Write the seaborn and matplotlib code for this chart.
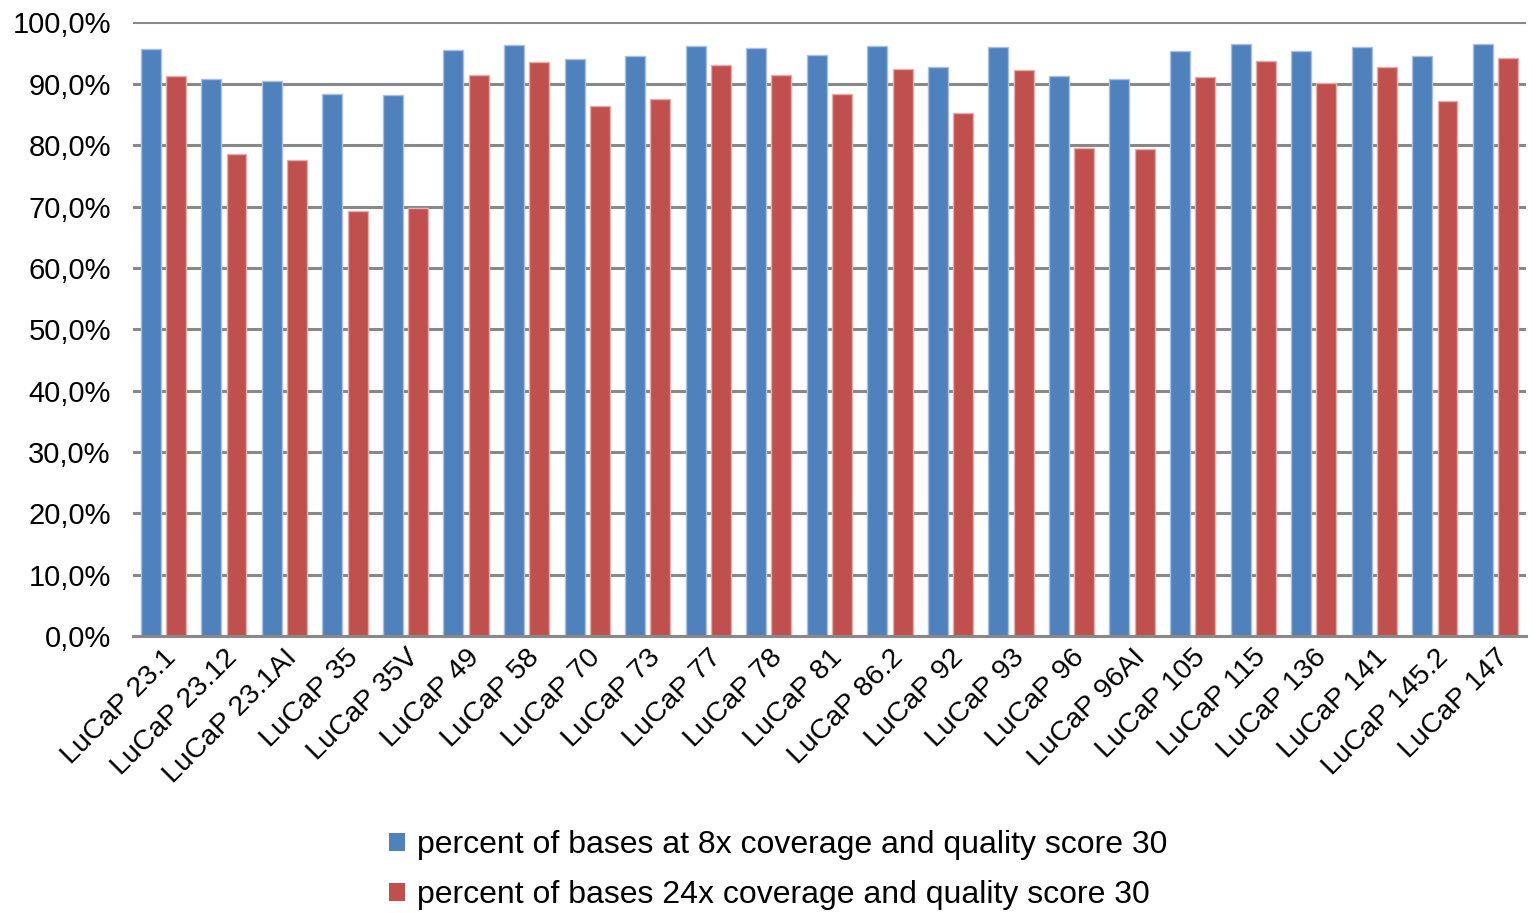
import matplotlib
matplotlib.use("Agg")
import matplotlib.pyplot as plt
from matplotlib.ticker import FuncFormatter, MultipleLocator
from matplotlib.patches import Patch
import seaborn as sns
import pandas as pd

samples = ["LuCaP 23.1", "LuCaP 23.12", "LuCaP 23.1AI", "LuCaP 35", "LuCaP 35V",
           "LuCaP 49", "LuCaP 58", "LuCaP 70", "LuCaP 73", "LuCaP 77", "LuCaP 78",
           "LuCaP 81", "LuCaP 86.2", "LuCaP 92", "LuCaP 93", "LuCaP 96", "LuCaP 96AI",
           "LuCaP 105", "LuCaP 115", "LuCaP 136", "LuCaP 141", "LuCaP 145.2", "LuCaP 147"]
pct_8x = [95.7, 90.75, 90.4, 88.4, 88.1, 95.5, 96.3, 94.05, 94.5, 96.2, 95.85,
          94.65, 96.1, 92.7, 95.95, 91.2, 90.8, 95.35, 96.45, 95.3, 95.95, 94.5, 96.55]
pct_24x = [91.2, 78.5, 77.6, 69.35, 69.8, 91.5, 93.6, 86.45, 87.6, 93.1, 91.5,
           88.3, 92.4, 85.25, 92.25, 79.6, 79.4, 91.1, 93.7, 90.15, 92.8, 87.2, 94.15]
series_names = ["percent of bases at 8x coverage and quality score 30",
                "percent of bases 24x coverage and quality score 30"]
colors = ["#4F81BD", "#C0504D"]
edge_tints = ["#A9C1DF", "#E3AEAC"]

df = pd.DataFrame({
    "sample": samples * 2,
    "value": pct_8x + pct_24x,
    "series": [series_names[0]] * len(samples) + [series_names[1]] * len(samples),
})

sns.set_theme(style="white")
plt.rcParams["font.family"] = ["Liberation Sans", "DejaVu Sans"]
plt.rcParams["text.color"] = "black"

fig = plt.figure(figsize=(15.38, 9.13), dpi=100)
ax = fig.add_axes([0.0865, 0.3034, 0.9055, 0.672])

sns.barplot(data=df, x="sample", y="value", hue="series", palette=colors,
            width=0.835, gap=0.21, dodge=True, legend=False, ax=ax,
            edgecolor="none", linewidth=0, saturation=1)

# first half of the patches belong to the 8x series, second half to the 24x series
n = len(samples)
for i, p in enumerate(ax.patches[:2 * n]):
    p.set_edgecolor(edge_tints[i // n])
    p.set_linewidth(1.0)

ax.set_ylim(0, 100)
ax.set_xlim(-0.5, len(samples) - 0.5)
ax.yaxis.set_major_locator(MultipleLocator(10))
ax.yaxis.set_major_formatter(FuncFormatter(lambda v, _: f"{v:.1f}%".replace(".", ",")))
ax.grid(axis="y", color="#888888", linewidth=2.2)
ax.set_axisbelow(True)
for s in ["left", "right", "top"]:
    ax.spines[s].set_visible(False)
ax.spines["bottom"].set_color("#888888")
ax.spines["bottom"].set_linewidth(2.2)

ax.set_xlabel("")
ax.set_ylabel("")
ax.tick_params(axis="y", labelsize=21, length=0, pad=16, labelcolor="black")
ax.tick_params(axis="x", labelsize=20.5, length=0, pad=6, labelcolor="black")
plt.setp(ax.get_xticklabels(), rotation=45, ha="right", rotation_mode="anchor")

handles = [Patch(facecolor=c, edgecolor="none") for c in colors]
fig.legend(handles, series_names, loc="center", bbox_to_anchor=(0.506, 0.047),
           ncol=1, frameon=False, fontsize=23, handlelength=0.5, handleheight=0.5,
           handletextpad=0.35, labelspacing=0.62, alignment="left",
           labelcolor="black")

fig.savefig("out.png", dpi=100)
